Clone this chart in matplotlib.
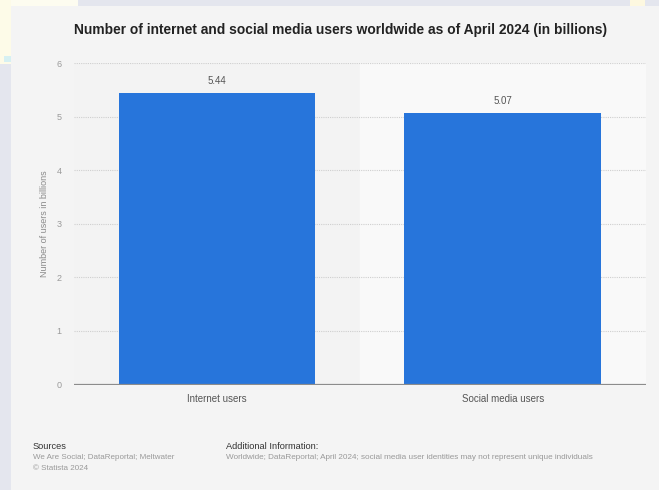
import matplotlib.pyplot as plt
from matplotlib.patches import Rectangle

plt.rcParams['font.family'] = ['Liberation Sans', 'DejaVu Sans']

# data
categories = ['Internet users', 'Social media users']
users_bn = [5.44, 5.07]
y_ticks = [0, 1, 2, 3, 4, 5, 6]

title = 'Number of internet and social media users worldwide as of April 2024 (in billions)'
y_label = 'Number of users in billions'

W, H = 659, 490
fig = plt.figure(figsize=(W / 100, H / 100), dpi=100)
fig.patch.set_facecolor('#e4e6ee')

def px_rect(x0, y0, x1, y1, color):
    # rectangle in pixel units measured from the top-left corner
    fig.patches.append(Rectangle((x0 / W, 1 - y1 / H), (x1 - x0) / W, (y1 - y0) / H,
                                 transform=fig.transFigure, facecolor=color,
                                 edgecolor='none', zorder=-1))

# page behind the card
px_rect(0, 0, 78, 6, '#fdfcf0')
px_rect(0, 0, 11, 64, '#fdfbe8')
px_rect(4, 56, 11, 62, '#d6f0f2')
px_rect(630, 0, 645, 6, '#fdf8e0')
# card
px_rect(11, 6, W, H, '#f4f4f4')

ax = fig.add_axes([74 / W, 1 - 384.5 / H, 571.5 / W, 321.5 / H])
ax.set_facecolor('#f3f3f3')
ax.axvspan(0.5, 1.5, color='#f9f9f9', zorder=0)

x = range(len(categories))
bars = ax.bar(x, users_bn, width=0.687, color='#2775db', zorder=3)
ax.bar_label(bars, fmt='%.2f', padding=5, fontsize=7, color='#555555')

ax.set_xlim(-0.5, 1.5)
ax.set_ylim(0, 6)
ax.set_yticks(y_ticks)
for t in y_ticks[1:]:
    ax.axhline(t, color='#cfcfcf', lw=0.8, ls=(0, (1, 1)), zorder=1)
ax.axhline(0, color='#8c8c8c', lw=1.6, zorder=4)

ax.set_xticks(list(x))
ax.set_xticklabels(categories)
ax.tick_params(axis='x', length=0, pad=7, labelsize=7, labelcolor='#555555')
ax.tick_params(axis='y', length=0, pad=9, labelsize=6.5, labelcolor='#9a9a9a')
for s in ax.spines.values():
    s.set_visible(False)

fig.text(45 / W, 1 - 224 / H, y_label, rotation=90, ha='center', va='center',
         fontsize=6.5, color='#8a8a8a')

fig.text(341 / W, 1 - 30 / H, title, ha='center', va='center',
         fontsize=9.95, fontweight='bold', color='#222222')

# footer
fig.text(33 / W, 1 - 446 / H, 'Sources', ha='left', va='center', fontsize=6.7, color='#333333')
fig.text(33 / W, 1 - 457 / H, 'We Are Social; DataReportal; Meltwater', ha='left', va='center',
         fontsize=5.75, color='#999999')
fig.text(33 / W, 1 - 468 / H, '\u00a9 Statista 2024', ha='left', va='center',
         fontsize=5.75, color='#999999')
fig.text(226 / W, 1 - 446 / H, 'Additional Information:', ha='left', va='center',
         fontsize=6.7, color='#333333')
fig.text(226 / W, 1 - 457 / H,
         'Worldwide; DataReportal; April 2024; social media user identities may not represent unique individuals',
         ha='left', va='center', fontsize=5.85, color='#999999')

fig.savefig('out.png', dpi=100, facecolor=fig.get_facecolor())
